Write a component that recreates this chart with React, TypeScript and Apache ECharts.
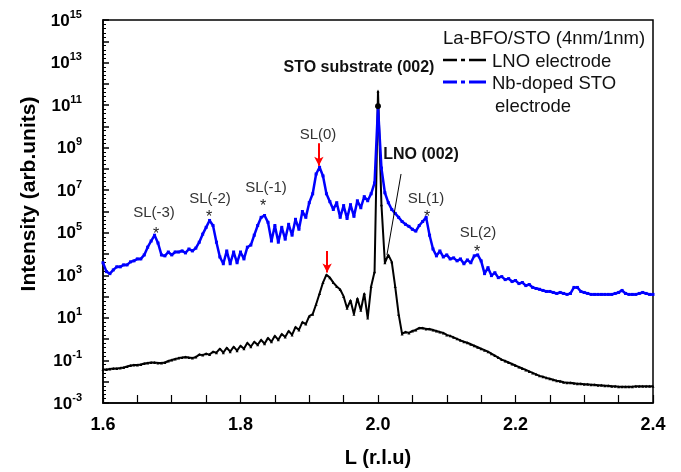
import React, { useEffect, useRef } from "react";
import * as echarts from "echarts";

// Sampling grid of L (r.l.u): 1.600 ... 2.400, step 0.005 (161 points)
const L_START = 1.6;
const L_STEP = 0.005;

// Nb-doped STO electrode (blue), intensity (arb. units)
const nbStoIntensity = [
  3.9e3, 1.5e3, 1.2e3, 1.8e3, 2.5e3, 2.5e3, 3.1e3, 3.1e3, 4.3e3, 4.8e3,
  5.9e3, 5.9e3, 9.1e3, 2.1e4, 4.1e4, 7.7e4, 3.3e4, 9.1e3, 8.2e3, 1.25e4,
  9.1e3, 1.25e4, 1.25e4, 1.4e4, 1.13e4, 1.73e4, 1.4e4, 1.9e4, 3.6e4, 8.6e4,
  1.8e5, 3.8e5, 2.2e5, 3.6e4, 7.3e3, 3.5e3, 1.4e4, 3.5e3, 1.25e4, 3.9e3,
  1.25e4, 5.9e3, 2.1e4, 2.65e4, 7.7e4, 2.2e5, 5.3e5, 6.5e5, 3.1e5, 4.1e4,
  2.2e5, 3.6e4, 1.8e5, 5.0e4, 2.5e5, 7.7e4, 4.3e5, 1.46e5, 1.0e6, 5.3e5,
  2.6e6, 6.8e6, 5.8e7, 1.2e8, 4.7e7, 6.8e6, 2.9e6, 1.24e6, 2.6e6, 5.3e5,
  1.9e6, 4.7e5, 2.1e6, 5.9e5, 3.2e6, 1.5e6, 5.0e6, 3.2e6, 6.8e6, 2.2e7,
  8.3e10, 1.1e8, 7.6e6, 2.6e6, 1.24e6, 8.1e5, 5.3e5, 3.4e5, 2.5e5, 2.0e5,
  1.46e5, 1.2e5, 2.2e5, 3.4e5, 5.3e5, 7.7e4, 1.73e4, 8.2e3, 1.4e4, 7.3e3,
  9.1e3, 5.9e3, 6.6e3, 4.8e3, 5.9e3, 3.5e3, 5.3e3, 3.9e3, 8.2e3, 9.1e3,
  4.8e3, 1.2e3, 2.3e3, 9.7e2, 1.33e3, 7.8e2, 8.7e2, 6.3e2, 7.0e2, 5.1e2,
  5.7e2, 4.1e2, 4.6e2, 3.3e2, 3.7e2, 2.7e2, 2.4e2, 2.2e2, 1.95e2, 1.75e2,
  1.75e2, 1.57e2, 1.41e2, 1.57e2, 1.41e2, 1.27e2, 1.41e2, 2.7e2, 2.7e2, 1.75e2,
  1.57e2, 1.41e2, 1.27e2, 1.27e2, 1.27e2, 1.27e2, 1.27e2, 1.27e2, 1.27e2, 1.41e2,
  1.57e2, 1.95e2, 1.41e2, 1.27e2, 1.27e2, 1.27e2, 1.41e2, 1.57e2, 1.41e2, 1.27e2,
  1.27e2,
];

// LNO electrode (black), intensity (arb. units)
const lnoIntensity = [
  0.038, 0.038, 0.040, 0.042, 0.042, 0.044, 0.047, 0.052, 0.058, 0.061,
  0.061, 0.064, 0.072, 0.076, 0.080, 0.080, 0.076, 0.076, 0.080, 0.094,
  0.104, 0.116, 0.129, 0.136, 0.144, 0.136, 0.129, 0.144, 0.188, 0.178,
  0.209, 0.188, 0.259, 0.232, 0.356, 0.232, 0.396, 0.259, 0.442, 0.288,
  0.491, 0.356, 0.676, 0.442, 0.753, 0.546, 0.933, 0.608, 1.15, 0.753,
  1.43, 0.933, 1.77, 1.28, 2.44, 1.59, 3.73, 2.71, 6.37, 5.14,
  12.1, 15.0, 43.6, 141, 457, 1070, 780, 457, 298, 216,
  102, 28.4, 66.8, 15.0, 82.8, 23.0, 141, 9.8, 298, 1480,
  4.6e11, 2.1e6, 3.9e3, 9.1e3, 4.3e3, 298, 15.0, 1.77, 2.19, 1.97,
  2.44, 2.71, 3.36, 3.36, 3.01, 3.01, 2.71, 2.44, 2.19, 1.97,
  1.59, 1.43, 1.22, 1.04, 0.88, 0.753, 0.676, 0.575, 0.491, 0.418,
  0.356, 0.304, 0.259, 0.209, 0.169, 0.136, 0.110, 0.094, 0.080, 0.068,
  0.058, 0.049, 0.042, 0.036, 0.0305, 0.026, 0.0222, 0.0189, 0.0170, 0.0152,
  0.0137, 0.0123, 0.0111, 0.0105, 0.0094, 0.0090, 0.0090, 0.0085, 0.0080, 0.0080,
  0.0076, 0.0076, 0.0072, 0.0072, 0.0069, 0.0069, 0.0065, 0.0065, 0.0062, 0.0062,
  0.0058, 0.0058, 0.0058, 0.0058, 0.0058, 0.0062, 0.0062, 0.0062, 0.0062, 0.0062,
  0.0062,
];

// Axis ticks
const xLabelValues = [1.6, 1.8, 2.0, 2.2, 2.4];
const yExpMin = -3;
const yExpMax = 15;

// Annotation arrows in data units: [L, intensity]
const sl0Arrow = [[1.914, 1.6e9], [1.914, 1.4e8]];
const lnoArrow = [[1.926, 1.4e4], [1.926, 1.35e3]];
const lnoLeader = [[2.0335, 5.8e7], [2.013, 9.1e3]];
const stoPeakDot = [2.0, 8.9e10];

// Annotation texts
const slLabels = ["SL(-3)", "SL(-2)", "SL(-1)", "SL(0)", "SL(1)", "SL(2)"];
const slLabelPos = [[154, 211], [210, 197], [266, 186], [318, 133], [426, 197], [478, 231]];
const starPos = [[156, 229], [209, 212], [263, 201], [427, 212], [477, 247]];

const FONT = 'Arial, "Liberation Sans", Helvetica, sans-serif';

export default function App() {
  const ref = useRef<HTMLDivElement>(null);
  useEffect(() => {
    if (!ref.current) return;
    const chart = echarts.init(ref.current, undefined, { renderer: "svg" });
    const L = nbStoIntensity.map((_, i) => +(L_START + i * L_STEP).toFixed(3));
    const toPt = (p: number[]) => [p[0], Math.log10(p[1])];
    const blueData = L.map((x, i) => [x, Math.log10(nbStoIntensity[i])]);
    const blackData = L.map((x, i) => [x, Math.log10(lnoIntensity[i])]);

    const graphics: any[] = [];
    const txt = (
      text: string,
      x: number,
      y: number,
      font: string,
      color: string,
      align = "center",
      lineHeight?: number
    ) => ({
      type: "text",
      x,
      y,
      z: 100,
      silent: true,
      style: {
        text,
        font,
        fill: color,
        align,
        textAlign: align,
        verticalAlign: "middle",
        textVerticalAlign: "middle",
        ...(lineHeight ? { lineHeight } : {}),
      },
    });
    // y-axis title
    graphics.push({
      type: "text",
      x: 27,
      y: 194,
      rotation: Math.PI / 2,
      silent: true,
      style: {
        text: "Intensity (arb.units)",
        font: `bold 21px ${FONT}`,
        fill: "#000",
        align: "center",
        textAlign: "center",
        verticalAlign: "middle",
        textVerticalAlign: "middle",
      },
    });
    // legend
    graphics.push(txt("La-BFO/STO (4nm/1nm)", 443, 37, `18.5px ${FONT}`, "#111", "left"));
    const seg = (x1: number, x2: number, y: number, color: string, w: number) => ({
      type: "line",
      silent: true,
      shape: { x1, y1: y, x2, y2: y },
      style: { stroke: color, lineWidth: w },
    });
    graphics.push(seg(443, 457, 60, "#000", 2.5), seg(461, 465, 60, "#000", 2.5), seg(469, 486, 60, "#000", 2.5));
    graphics.push(txt("LNO electrode", 492, 60, `18.5px ${FONT}`, "#111", "left"));
    graphics.push(seg(443, 457, 82, "#0000ff", 3), seg(461, 465, 82, "#0000ff", 3), seg(469, 486, 82, "#0000ff", 3));
    graphics.push(txt("Nb-doped STO", 492, 82, `18.5px ${FONT}`, "#111", "left"));
    graphics.push(txt("electrode", 495, 105, `18.5px ${FONT}`, "#111", "left"));
    // peak annotations
    graphics.push(txt("STO substrate (002)", 359, 66, `bold 16px ${FONT}`, "#111"));
    graphics.push(txt("LNO (002)", 421, 153, `bold 16px ${FONT}`, "#111"));
    slLabels.forEach((s, i) =>
      graphics.push(txt(s, slLabelPos[i][0], slLabelPos[i][1], `15px ${FONT}`, "#333", "center", 14))
    );
    starPos.forEach((p) => graphics.push(txt("*", p[0], p[1] + 4, `16px ${FONT}`, "#222", "center", 8)));

    chart.setOption({
      animation: false,
      grid: {
        left: 103,
        right: 28,
        top: 20,
        bottom: 64,
        show: true,
        borderColor: "#000",
        borderWidth: 1.5,
        backgroundColor: "transparent",
      },
      xAxis: {
        type: "value",
        min: 1.6,
        max: 2.4,
        interval: 0.05,
        name: "L (r.l.u)",
        nameLocation: "middle",
        nameGap: 44,
        nameTextStyle: { fontFamily: FONT, fontWeight: "bold", fontSize: 20, color: "#000" },
        axisLine: { onZero: false, lineStyle: { color: "#000", width: 1.5 } },
        axisTick: { inside: true, length: 8, lineStyle: { color: "#000", width: 1.2 } },
        splitLine: { show: false },
        axisLabel: {
          margin: 12,
          fontFamily: FONT,
          fontWeight: "bold",
          fontSize: 18,
          color: "#000",
          formatter: (v: number) =>
            xLabelValues.some((t) => Math.abs(t - v) < 1e-6) ? v.toFixed(1) : "",
        },
      },
      yAxis: {
        type: "value",
        min: yExpMin,
        max: yExpMax,
        interval: 1,
        axisLine: { onZero: false, lineStyle: { color: "#000", width: 1.5 } },
        axisTick: { inside: true, length: 6, lineStyle: { color: "#000", width: 1.5 } },
        minorTick: { show: true, splitNumber: 5, length: 3, lineStyle: { color: "#000", width: 1 } },
        splitLine: { show: false },
        axisLabel: {
          margin: 21,
          formatter: (v: number) => {
            const e = Math.round(v);
            if (Math.abs(e % 2) !== 1) return "";
            return `{b|10}{s|${e}}`;
          },
          rich: {
            b: { fontFamily: FONT, fontWeight: "bold", fontSize: 17, color: "#000", lineHeight: 24, verticalAlign: "middle" },
            s: { fontFamily: FONT, fontWeight: "bold", fontSize: 11, color: "#000", verticalAlign: "top" },
          },
        },
      },
      series: [
        {
          name: "LNO electrode",
          type: "line",
          data: blackData,
          showSymbol: true,
          symbol: "triangle",
          symbolSize: 3,
          itemStyle: { color: "#000" },
          lineStyle: { color: "#000", width: 2 },
          z: 2,
          silent: true,
          markLine: {
            silent: true,
            animation: false,
            label: { show: false },
            data: [
              [
                { coord: toPt(lnoArrow[0]), symbol: "none", lineStyle: { color: "#ff0000", width: 2, type: "solid" } },
                { coord: toPt(lnoArrow[1]), symbol: "arrow", symbolSize: [7, 9] },
              ],
              [
                { coord: toPt(lnoLeader[0]), symbol: "none", lineStyle: { color: "#000", width: 1, type: "solid" } },
                { coord: toPt(lnoLeader[1]), symbol: "none" },
              ],
            ],
          },
        },
        {
          name: "Nb-doped STO electrode",
          type: "line",
          data: blueData,
          showSymbol: true,
          symbol: "rect",
          symbolSize: 3,
          itemStyle: { color: "#0000ff" },
          lineStyle: { color: "#0000ff", width: 2.5 },
          z: 3,
          silent: true,
          markPoint: {
            silent: true,
            animation: false,
            symbol: "circle",
            symbolSize: 6,
            itemStyle: { color: "#000" },
            label: { show: false },
            data: [{ coord: toPt(stoPeakDot) }],
          },
          markLine: {
            silent: true,
            animation: false,
            label: { show: false },
            data: [
              [
                { coord: toPt(sl0Arrow[0]), symbol: "none", lineStyle: { color: "#ff0000", width: 2, type: "solid" } },
                { coord: toPt(sl0Arrow[1]), symbol: "arrow", symbolSize: [7, 9] },
              ],
            ],
          },
        },
      ],
      graphic: graphics,
    });
    return () => chart.dispose();
  }, []);
  return <div ref={ref} style={{ position: "fixed", left: 0, top: 0, width: 681, height: 472 }} />;
}
